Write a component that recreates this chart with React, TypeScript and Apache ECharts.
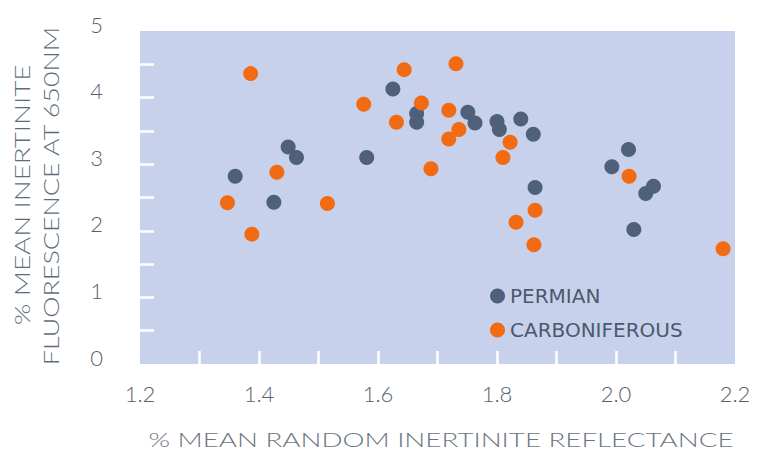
import React, { useEffect, useRef } from "react";
import * as echarts from "echarts";

const permianX = [1.360, 1.425, 1.449, 1.463, 1.581, 1.625, 1.665, 1.665, 1.751, 1.763, 1.800, 1.804, 1.840, 1.861, 1.864, 1.993, 2.021, 2.030, 2.050, 2.063];
const permianY = [2.82, 2.43, 3.26, 3.10, 3.10, 4.13, 3.76, 3.63, 3.78, 3.62, 3.64, 3.52, 3.68, 3.45, 2.65, 2.96, 3.22, 2.02, 2.56, 2.67];

const carbX = [1.386, 1.430, 1.347, 1.515, 1.388, 1.644, 1.731, 1.576, 1.673, 1.631, 1.719, 1.736, 1.719, 1.689, 1.822, 1.810, 1.864, 1.832, 1.862, 2.022, 2.180];
const carbY = [4.36, 2.88, 2.42, 2.41, 1.95, 4.42, 4.51, 3.90, 3.92, 3.63, 3.81, 3.52, 3.38, 2.93, 3.33, 3.10, 2.31, 2.13, 1.79, 2.82, 1.73];

const xLabels = [1.2, 1.4, 1.6, 1.8, 2.0, 2.2];
const xTicks = [1.3, 1.4, 1.5, 1.6, 1.7, 1.8, 1.9, 2.0, 2.1];
const yLabels = [0, 1, 2, 3, 4, 5];
const yTicks = [0.5, 1, 1.5, 2, 2.5, 3, 3.5, 4, 4.5];

const seriesNames = ["PERMIAN", "CARBONIFEROUS"];
const xTitle = "% MEAN RANDOM INERTINITE REFLECTANCE";
const yTitle1 = "% MEAN INERTINITE";
const yTitle2 = "FLUORESCENCE AT 650NM";

const FONT = "Lato, 'DejaVu Sans', sans-serif";

export default function App() {
  const ref = useRef<HTMLDivElement>(null);
  useEffect(() => {
    if (!ref.current) return;
    const chart = echarts.init(ref.current, undefined, { renderer: "svg" });
    const pts = (xs: number[], ys: number[]) => xs.map((x, i) => [x, ys[i]]);
    chart.setOption({
      animation: false,
      backgroundColor: "#ffffff",
      grid: {
        left: 140,
        right: 25,
        top: 31,
        bottom: 87,
        show: true,
        backgroundColor: "#c7d1eb",
        borderWidth: 0,
      },
      xAxis: {
        type: "value",
        min: 1.2,
        max: 2.2,
        axisLine: { show: false },
        splitLine: { show: false },
        axisTick: {
          show: true,
          inside: true,
          length: 13,
          customValues: xTicks,
          lineStyle: { color: "#ffffff", width: 2.5 },
        },
        axisLabel: {
          customValues: xLabels,
          formatter: (v: number) => v.toFixed(1),
          fontFamily: FONT,
          fontSize: 22,
          fontWeight: 300,
          color: "#55626f",
          margin: 18,
        },
      },
      yAxis: {
        type: "value",
        min: 0,
        max: 5,
        axisLine: { show: false },
        splitLine: { show: false },
        axisTick: {
          show: true,
          inside: true,
          length: 14,
          customValues: yTicks,
          lineStyle: { color: "#ffffff", width: 2.5 },
        },
        axisLabel: {
          customValues: yLabels,
          formatter: (v: number) => String(v),
          fontFamily: FONT,
          fontSize: 22,
          fontWeight: 300,
          color: "#55626f",
          margin: 37,
          verticalAlign: "bottom",
          lineHeight: 14,
        },
      },
      legend: {
        orient: "vertical",
        left: 485,
        top: 281,
        icon: "circle",
        itemWidth: 15,
        itemHeight: 15,
        itemGap: 14,
        textStyle: {
          fontFamily: "'DejaVu Sans', sans-serif",
          fontSize: 20,
          lineHeight: 20,
          color: "#4a5a6c",
        },
        data: seriesNames,
      },
      graphic: [
        {
          type: "text",
          x: 22,
          y: 195,
          rotation: Math.PI / 2,
          scaleX: 1.32,
          style: {
            text: yTitle1,
            fontFamily: FONT,
            fontSize: 21,
            fontWeight: 300,
            fill: "#5e6d7a",
            align: "center",
            verticalAlign: "middle",
          },
        },
        {
          type: "text",
          x: 51,
          y: 196,
          rotation: Math.PI / 2,
          scaleX: 1.28,
          style: {
            text: yTitle2,
            fontFamily: FONT,
            fontSize: 21,
            fontWeight: 300,
            fill: "#5e6d7a",
            align: "center",
            verticalAlign: "middle",
          },
        },
        {
          type: "text",
          x: 441,
          y: 440,
          scaleX: 1.46,
          style: {
            text: xTitle,
            fontFamily: FONT,
            fontSize: 19,
            fontWeight: 300,
            fill: "#6a7580",
            align: "center",
            verticalAlign: "middle",
          },
        },
      ],
      series: [
        {
          name: seriesNames[0],
          type: "scatter",
          symbolSize: 15,
          itemStyle: { color: "#4f607a", opacity: 1 },
          data: pts(permianX, permianY),
        },
        {
          name: seriesNames[1],
          type: "scatter",
          symbolSize: 15,
          itemStyle: { color: "#f26a12", opacity: 1 },
          data: pts(carbX, carbY),
        },
      ],
    });
    return () => chart.dispose();
  }, []);
  return (
    <div
      ref={ref}
      style={{ position: "fixed", left: 0, top: 0, width: 760, height: 451 }}
    />
  );
}
